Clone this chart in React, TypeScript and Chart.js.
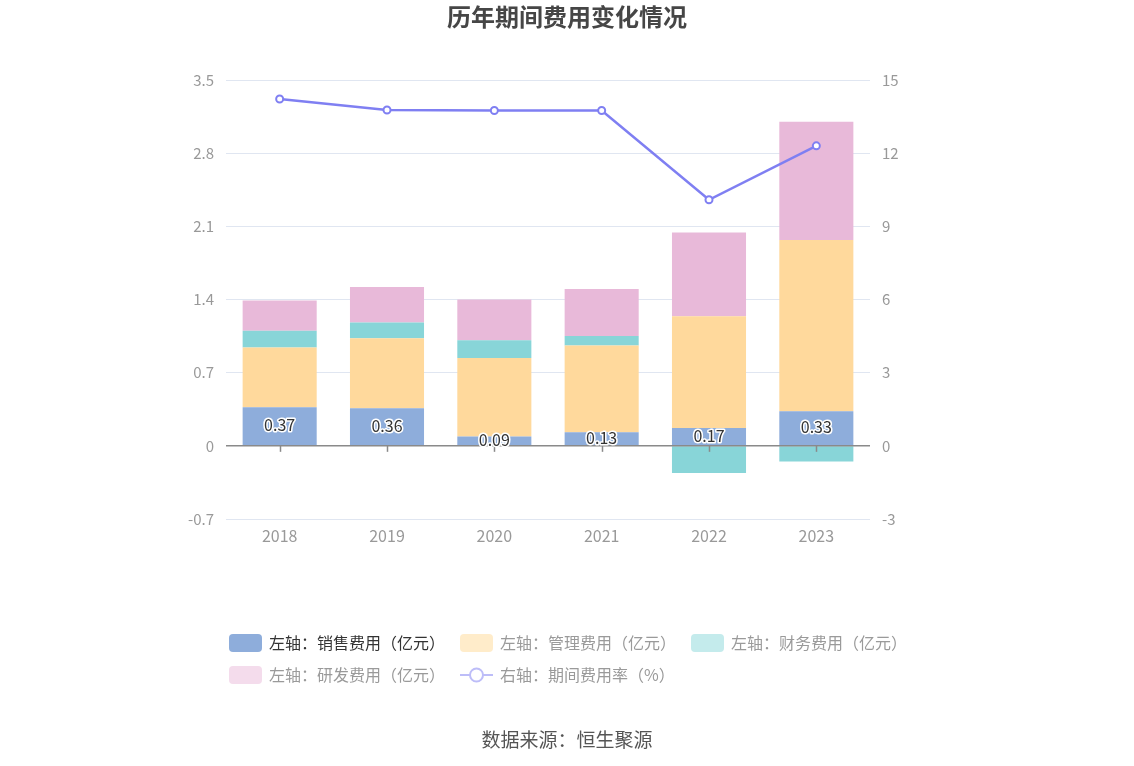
import React, { useEffect, useRef } from 'react';
import { Chart, registerables } from 'chart.js';

Chart.register(...registerables);

const FONT = '"Noto Sans CJK SC", "Noto Sans", sans-serif';

const years = ['2018', '2019', '2020', '2021', '2022', '2023'];
const salesExpense = [0.37, 0.36, 0.09, 0.13, 0.17, 0.33];
const adminExpense = [0.57, 0.67, 0.75, 0.83, 1.07, 1.64];
const financeExpense = [0.16, 0.15, 0.17, 0.09, -0.26, -0.15];
const rdExpense = [0.29, 0.34, 0.39, 0.45, 0.8, 1.13];
const expenseRate = [14.22, 13.77, 13.75, 13.75, 10.09, 12.3];
const leftTicks = [-0.7, 0, 0.7, 1.4, 2.1, 2.8, 3.5];
const rightTicks = [-3, 0, 3, 6, 9, 12, 15];
const seriesNames = [
  '左轴：销售费用（亿元）',
  '左轴：管理费用（亿元）',
  '左轴：财务费用（亿元）',
  '左轴：研发费用（亿元）',
  '右轴：期间费用率（%）',
];
const titleText = '历年期间费用变化情况';
const sourceText = '数据来源：恒生聚源';

const barColors = ['#8eaddb', '#ffd99c', '#88d5d8', '#e8b9d9'];
const lineColor = '#7f7ff2';
const legendColors = ['#8eaddb', '#ffecca', '#c4ebec', '#f4dcec', '#bdbdf8'];
const legendTextColors = ['#333333', '#9a9a9a', '#9a9a9a', '#9a9a9a', '#9a9a9a'];

const labelPlugin = {
  id: 'salesLabels',
  afterDatasetsDraw(chart: any) {
    const ctx = chart.ctx;
    const area = chart.chartArea;
    const y0 = chart.scales.y.getPixelForValue(0);
    ctx.save();
    ctx.strokeStyle = '#8a8a8a';
    ctx.lineWidth = 1.5;
    ctx.beginPath();
    ctx.moveTo(area.left, y0);
    ctx.lineTo(area.right, y0);
    ctx.stroke();
    const xs = chart.scales.x;
    years.forEach((_, i) => {
      const x = Math.round(xs.getPixelForValue(i)) + 0.5;
      ctx.beginPath();
      ctx.moveTo(x, y0);
      ctx.lineTo(x, y0 + 6);
      ctx.stroke();
    });
    const meta = chart.getDatasetMeta(0);
    ctx.font = '16px ' + FONT;
    ctx.textAlign = 'center';
    ctx.textBaseline = 'middle';
    ctx.lineJoin = 'round';
    meta.data.forEach((el: any, i: number) => {
      const cy = (el.y + el.base) / 2;
      const txt = salesExpense[i].toFixed(2);
      ctx.strokeStyle = '#ffffff';
      ctx.lineWidth = 3;
      ctx.strokeText(txt, el.x, cy - 1);
      ctx.fillStyle = '#333333';
      ctx.fillText(txt, el.x, cy - 1);
    });
    ctx.restore();
  },
};

const decorPlugin = {
  id: 'decor',
  afterDraw(chart: any) {
    const ctx = chart.ctx;
    const W = chart.width;
    ctx.save();
    ctx.font = 'bold 24px ' + FONT;
    ctx.fillStyle = '#464646';
    ctx.textAlign = 'center';
    ctx.textBaseline = 'middle';
    ctx.fillText(titleText, W / 2, 17);
    ctx.font = '19px ' + FONT;
    ctx.fillStyle = '#555555';
    ctx.fillText(sourceText, W / 2, 740);

    ctx.font = '16px ' + FONT;
    const boxW = 33;
    const boxH = 18;
    const textGap = 7;
    const itemGap = 15;
    const rowH = 32;
    const maxRowW = 700;
    const items = chart.data.datasets.map((ds: any, i: number) => ({
      label: ds.label as string,
      i,
      w: boxW + textGap + ctx.measureText(ds.label).width,
    }));
    const rows: any[][] = [[]];
    let cur = 0;
    items.forEach((it: any) => {
      const add = (rows[rows.length - 1].length ? itemGap : 0) + it.w;
      if (cur + add > maxRowW && rows[rows.length - 1].length) {
        rows.push([it]);
        cur = it.w;
      } else {
        rows[rows.length - 1].push(it);
        cur += add;
      }
    });
    const startX = 229;
    rows.forEach((r, ri) => {
      let x = startX;
      const cy = 643 + ri * rowH;
      r.forEach((it: any) => {
        const c = legendColors[it.i];
        if (it.i === 4) {
          ctx.strokeStyle = c;
          ctx.lineWidth = 2;
          ctx.beginPath();
          ctx.moveTo(x, cy);
          ctx.lineTo(x + boxW, cy);
          ctx.stroke();
          ctx.beginPath();
          ctx.arc(x + boxW / 2, cy, 6.5, 0, Math.PI * 2);
          ctx.fillStyle = '#ffffff';
          ctx.fill();
          ctx.stroke();
        } else {
          ctx.fillStyle = c;
          ctx.beginPath();
          (ctx as any).roundRect(x, cy - boxH / 2, boxW, boxH, 4);
          ctx.fill();
        }
        ctx.fillStyle = legendTextColors[it.i];
        ctx.textAlign = 'left';
        ctx.textBaseline = 'middle';
        ctx.fillText(it.label, x + boxW + textGap, cy);
        x += it.w + itemGap;
      });
    });
    ctx.restore();
  },
};

export default function App() {
  const ref = useRef<HTMLCanvasElement | null>(null);

  useEffect(() => {
    if (!ref.current) return;
    Chart.defaults.font.family = FONT;
    const barCommon = {
      type: 'bar' as const,
      yAxisID: 'y',
      stack: 'cost',
      barPercentage: 0.69,
      categoryPercentage: 1,
      borderWidth: 0,
      order: 1,
    };
    const chart = new Chart(ref.current, {
      type: 'bar',
      data: {
        labels: years,
        datasets: [
          { ...barCommon, label: seriesNames[0], data: salesExpense, backgroundColor: barColors[0] },
          { ...barCommon, label: seriesNames[1], data: adminExpense, backgroundColor: barColors[1] },
          { ...barCommon, label: seriesNames[2], data: financeExpense, backgroundColor: barColors[2] },
          { ...barCommon, label: seriesNames[3], data: rdExpense, backgroundColor: barColors[3] },
          {
            type: 'line' as const,
            label: seriesNames[4],
            data: expenseRate,
            yAxisID: 'y1',
            borderColor: lineColor,
            borderWidth: 2.5,
            pointRadius: 3.5,
            pointBorderWidth: 2,
            pointBackgroundColor: '#ffffff',
            pointBorderColor: lineColor,
            tension: 0,
            order: 0,
          } as any,
        ],
      },
      options: {
        animation: false,
        responsive: false,
        layout: { padding: { left: 0, right: 0, top: 80, bottom: 197 } },
        plugins: {
          legend: { display: false },
          title: { display: false },
          tooltip: { enabled: false },
        },
        scales: {
          x: {
            stacked: true,
            grid: { display: false, drawTicks: false },
            border: { display: false },
            ticks: { color: '#999999', font: { size: 16, family: FONT }, padding: 7 },
            afterFit: (s: any) => {
              s.height = 50;
            },
          },
          y: {
            type: 'linear',
            position: 'left',
            stacked: true,
            min: -0.7,
            max: 3.5,
            afterBuildTicks: (s: any) => {
              s.ticks = leftTicks.map((v) => ({ value: v }));
            },
            ticks: {
              color: '#999999',
              font: { size: 15, family: FONT },
              padding: 12,
              callback: (v: any) => String(v),
            },
            grid: { color: '#e0e6f1', drawTicks: false, lineWidth: 1 },
            border: { display: false },
            afterFit: (s: any) => {
              s.width = 226;
            },
          },
          y1: {
            type: 'linear',
            position: 'right',
            min: -3,
            max: 15,
            afterBuildTicks: (s: any) => {
              s.ticks = rightTicks.map((v) => ({ value: v }));
            },
            ticks: {
              color: '#999999',
              font: { size: 15, family: FONT },
              padding: 12,
              callback: (v: any) => String(v),
            },
            grid: { display: false, drawTicks: false },
            border: { display: false },
            afterFit: (s: any) => {
              s.width = 264;
            },
          },
        },
      } as any,
      plugins: [labelPlugin, decorPlugin],
    });
    return () => chart.destroy();
  }, []);

  return (
    <div style={{ position: 'absolute', left: 0, top: 0, width: 1134, height: 766, background: '#ffffff' }}>
      <canvas ref={ref} width={1134} height={766} style={{ display: 'block', width: 1134, height: 766 }} />
    </div>
  );
}
